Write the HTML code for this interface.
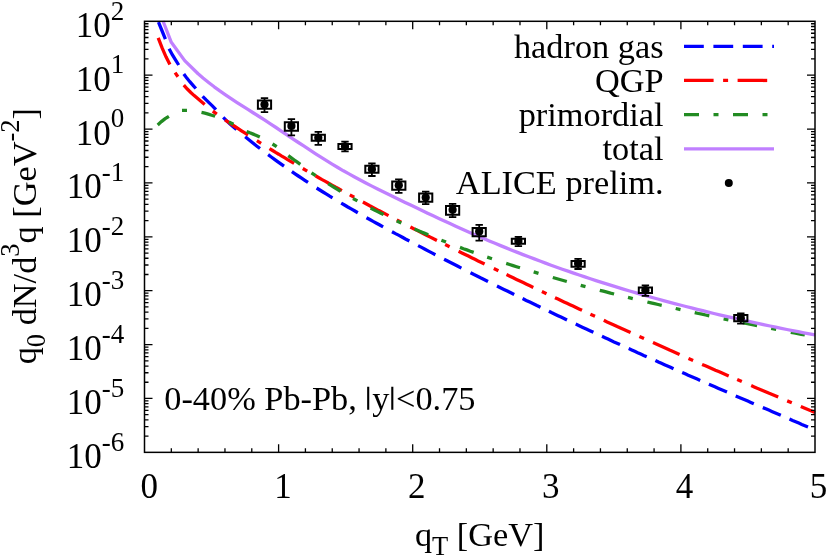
<!DOCTYPE html>
<html><head><meta charset="utf-8"><title>plot</title>
<style>
html,body{margin:0;padding:0;background:#fff;}
svg{display:block;will-change:transform;}
text{font-family:"Liberation Serif",serif;fill:#000;}
.s{font-family:"Liberation Sans",sans-serif;}
</style></head><body>
<svg width="830" height="557" viewBox="0 0 830 557">
<rect width="830" height="557" fill="#fff"/>
<path d="M158.5 22.2L161.9 30.5L165.4 39.1M169.1 48.7L172.3 54.7L175.5 59.8L178.7 65.0M183.8 74.0L186.8 78.1L189.8 81.7L192.8 85.1L195.8 88.5M202.6 96.3L205.9 99.7L209.2 102.9L212.6 106.1L215.9 109.6M223.2 117.4L226.5 120.6L229.8 123.7L233.2 126.7L236.5 129.6M245.2 136.8L248.9 139.8L252.6 142.8L256.3 145.7L260.0 148.5M268.1 154.7L271.3 157.0L274.5 159.3L277.6 161.6L280.8 163.9L284.0 166.2M291.9 171.7L295.1 173.9L298.3 176.0L301.6 178.2L304.8 180.3L308.0 182.4M316.6 188.0L319.8 190.0L323.0 192.0L326.1 193.9L329.3 195.9L332.5 197.8M341.2 203.1L344.5 205.0L347.8 207.0L351.2 208.9L354.5 210.8L357.8 212.7M366.5 217.7L369.8 219.5L373.1 221.4L376.5 223.2L379.8 225.0L383.1 226.9M392.0 231.7L395.5 233.6L399.0 235.4L402.4 237.3L405.9 239.2L409.4 241.0M418.1 245.6L421.6 247.4L425.0 249.2L428.5 251.1L431.9 252.9L435.4 254.7M444.1 259.2L447.6 261.0L451.0 262.7L454.5 264.5L457.9 266.3L461.4 268.1M470.5 272.7L474.0 274.5L477.5 276.2L481.0 278.0L484.5 279.7L488.0 281.5M497.0 286.0L500.4 287.7L503.9 289.4L507.3 291.1L510.8 292.8L514.2 294.5M522.6 298.6L526.2 300.4L529.8 302.1L533.3 303.8L536.9 305.6L540.5 307.3M548.9 311.3L551.9 312.8L554.9 314.2L558.0 315.7L561.0 317.1L564.0 318.5L567.0 320.0M575.7 324.1L579.2 325.7L582.8 327.4L586.3 329.0L589.9 330.7L593.4 332.3M602.0 336.3L605.0 337.7L608.0 339.1L611.0 340.5L614.0 341.9L617.0 343.2L620.0 344.6M628.7 348.6L631.7 349.9L634.7 351.3L637.7 352.7L640.7 354.0L643.7 355.4L646.7 356.7M655.4 360.6L658.4 362.0L661.4 363.3L664.5 364.7L667.5 366.0L670.5 367.3L673.5 368.7M682.2 372.5L685.2 373.8L688.2 375.2L691.2 376.5L694.2 377.8L697.2 379.1L700.2 380.4M708.9 384.2L711.9 385.5L714.9 386.8L718.0 388.2L721.0 389.5L724.0 390.8L727.0 392.1M735.7 395.9L738.7 397.2L741.7 398.5L744.8 399.8L747.8 401.1L750.8 402.4L753.8 403.7M762.8 407.6L765.8 408.8L768.8 410.1L771.8 411.4L774.8 412.7L777.8 414.0L780.8 415.3M789.5 419.0L792.6 420.4L795.7 421.7L798.8 423.0L801.8 424.4L804.9 425.7L808.0 427.0" stroke="#0000ff" stroke-width="3.3" fill="none"/>
<path d="M158.2 37.9L162.1 47.9L166.0 56.8L169.9 64.4M183.8 85.2L187.3 89.0L190.8 92.5L194.2 95.6L197.7 98.6L201.2 101.5L204.7 104.4M225.0 120.0L228.3 122.2L231.6 124.4L234.9 126.5L238.2 128.6L241.5 130.8L244.8 132.9L248.1 135.0M269.5 148.6L272.6 150.5L275.6 152.4L278.7 154.2L281.8 156.1L284.9 157.9L288.0 159.8L291.0 161.6L294.1 163.4M315.5 175.8L318.8 177.7L322.1 179.6L325.4 181.4L328.7 183.3L332.0 185.1L335.3 187.0L338.6 188.8L341.9 190.6M362.9 202.0L366.1 203.7L369.3 205.5L372.5 207.2L375.7 208.9L378.9 210.6L382.1 212.2L385.3 213.9L388.5 215.6M410.4 227.0L413.7 228.7L417.0 230.4L420.3 232.1L423.6 233.7L427.0 235.4L430.3 237.1L433.6 238.8L436.9 240.4M458.6 251.3L461.9 252.9L465.1 254.5L468.4 256.1L471.6 257.7L474.9 259.3L478.1 260.9L481.4 262.4L484.6 264.0M506.5 274.6L509.9 276.2L513.2 277.8L516.5 279.4L519.9 281.0L523.2 282.6L526.6 284.2L529.9 285.8L533.3 287.4M555.0 297.7L558.0 299.1L561.0 300.5L564.0 301.9L567.0 303.3L570.0 304.7L573.0 306.1L576.0 307.5L579.0 308.9L582.0 310.3M603.8 320.3L607.1 321.9L610.5 323.4L613.9 324.9L617.2 326.5L620.5 328.0L623.9 329.5L627.2 331.0L630.6 332.5M653.0 342.6L656.3 344.1L659.6 345.6L663.0 347.1L666.3 348.6L669.6 350.1L673.0 351.5L676.3 353.0L679.6 354.5M702.1 364.4L705.4 365.8L708.8 367.3L712.1 368.7L715.4 370.2L718.7 371.6L722.1 373.1L725.4 374.5L728.7 375.9M751.2 385.6L754.2 386.9L757.2 388.2L760.2 389.4L763.2 390.7L766.2 392.0L769.2 393.3L772.2 394.5L775.2 395.8L778.2 397.1M800.8 406.5L804.3 408.0L807.9 409.5L811.5 411.0L815.0 412.5M175.1 72.6L177.9 76.7M212.8 111.1L216.8 114.1M256.9 140.7L261.1 143.3M302.8 168.5L307.2 171.1M349.8 194.9L354.2 197.3M396.8 219.9L401.2 222.2M445.2 244.6L449.6 246.8M493.8 268.5L498.4 270.7M541.9 291.5L546.5 293.7M590.4 314.2L595.0 316.3M639.4 336.5L644.0 338.6M688.5 358.4L693.1 360.4M737.2 379.6L741.8 381.6M787.2 400.9L791.8 402.8" stroke="#ff0000" stroke-width="3.3" fill="none"/>
<path d="M157.7 124.9L161.4 121.6L165.2 118.6L168.9 116.3M201.5 112.4L204.9 113.1L208.3 114.1L211.7 115.2L215.1 116.3M246.6 131.4L249.9 132.8L253.2 134.1L256.5 135.4L259.8 136.9M288.3 155.7L291.3 157.9L294.3 160.0L297.3 162.2L300.3 164.4M328.2 183.7L331.3 185.6L334.4 187.5L337.4 189.4L340.5 191.3M370.6 208.0L373.9 209.7L377.1 211.4L380.4 213.0L383.6 214.6M414.5 229.0L417.9 230.5L421.4 232.0L424.8 233.4L428.2 234.8M460.0 247.4L463.4 248.7L466.9 249.9L470.3 251.2L473.7 252.4M506.2 263.4L509.6 264.5L513.1 265.6L516.5 266.7L520.0 267.8M552.8 277.5L556.3 278.5L559.8 279.5L563.3 280.5L566.8 281.5M599.8 290.3L603.4 291.2L607.0 292.1L610.5 293.1L614.1 294.0M647.4 302.0L651.0 302.9L654.5 303.7L658.1 304.5L661.7 305.3M694.7 312.7L698.4 313.5L702.0 314.2L705.6 315.0L709.3 315.8M742.7 322.7L746.3 323.5L749.9 324.2L753.5 324.9L757.1 325.6M790.8 332.3L794.3 333.0L797.8 333.7L801.3 334.3L804.8 335.0M182.0 110.4L187.0 110.3M228.9 122.1L233.5 124.3M272.5 144.0L276.7 146.7M311.5 172.8L315.7 175.6M353.0 198.5L357.4 200.9M396.7 220.9L401.3 223.0M441.4 240.2L446.0 242.0M487.2 257.1L492.0 258.7M533.7 271.9L538.5 273.4M580.7 285.3L585.5 286.6M628.0 297.4L632.8 298.6M675.7 308.5L680.5 309.6M723.6 318.8L728.4 319.8M771.2 328.4L776.2 329.4" stroke="#228b22" stroke-width="3.3" fill="none"/>
<path d="M163.0 21.0L171.3 42.3L184.7 60.6L198.1 73.8L203.0 78.0L208.6 82.5L214.2 86.8L219.8 90.9L225.5 94.8L231.1 98.6L236.7 102.3L242.3 105.9L247.9 109.4L253.5 113.0L259.1 116.5L264.8 120.2L270.4 123.8L276.0 127.5L281.6 131.3L287.2 135.0L292.8 138.8L298.4 142.5L304.1 146.2L309.7 149.9L315.3 153.6L320.9 157.2L326.5 160.7L332.1 164.1L337.8 167.5L343.4 170.8L349.0 173.9L354.6 177.0L360.2 180.0L365.8 183.0L371.4 185.9L377.1 188.7L382.7 191.5L388.3 194.3L393.9 197.0L399.5 199.7L405.1 202.4L410.7 205.1L416.4 207.8L422.0 210.5L427.6 213.2L433.2 215.8L438.8 218.4L444.4 221.0L450.0 223.6L455.7 226.2L461.3 228.7L466.9 231.2L472.5 233.7L478.1 236.1L483.7 238.6L489.3 241.0L495.0 243.3L500.6 245.6L506.2 247.9L511.8 250.2L517.4 252.4L523.0 254.6L528.7 256.8L534.3 258.9L539.9 261.0L545.5 263.1L551.1 265.2L556.7 267.2L562.3 269.2L568.0 271.1L573.6 273.1L579.2 275.0L584.8 276.9L590.4 278.7L596.0 280.6L601.6 282.4L607.3 284.1L612.9 285.9L618.5 287.6L624.1 289.3L629.7 291.0L635.3 292.6L640.9 294.3L646.6 295.9L652.2 297.5L657.8 299.0L663.4 300.6L669.0 302.1L674.6 303.6L680.2 305.0L685.9 306.5L691.5 307.9L697.1 309.3L702.7 310.7L708.3 312.1L713.9 313.5L719.6 314.8L725.2 316.1L730.8 317.4L736.4 318.7L742.0 320.0L747.6 321.2L753.2 322.4L758.9 323.6L764.5 324.8L770.1 326.0L775.7 327.2L781.3 328.3L786.9 329.5L792.5 330.6L798.2 331.7L803.8 332.8L809.4 333.9L815.0 334.9" stroke="#c080ff" stroke-width="3.3" stroke-linejoin="round" fill="none"/>
<path d="M171.32 452.35v-4M171.32 21.3v4M198.14 452.35v-4M198.14 21.3v4M224.96 452.35v-4M224.96 21.3v4M251.78 452.35v-4M251.78 21.3v4M278.60 452.35v-8M278.60 21.3v8M305.42 452.35v-4M305.42 21.3v4M332.24 452.35v-4M332.24 21.3v4M359.06 452.35v-4M359.06 21.3v4M385.88 452.35v-4M385.88 21.3v4M412.70 452.35v-8M412.70 21.3v8M439.52 452.35v-4M439.52 21.3v4M466.34 452.35v-4M466.34 21.3v4M493.16 452.35v-4M493.16 21.3v4M519.98 452.35v-4M519.98 21.3v4M546.80 452.35v-8M546.80 21.3v8M573.62 452.35v-4M573.62 21.3v4M600.44 452.35v-4M600.44 21.3v4M627.26 452.35v-4M627.26 21.3v4M654.08 452.35v-4M654.08 21.3v4M680.90 452.35v-8M680.90 21.3v8M707.72 452.35v-4M707.72 21.3v4M734.54 452.35v-4M734.54 21.3v4M761.36 452.35v-4M761.36 21.3v4M788.18 452.35v-4M788.18 21.3v4M144.5 436.13h4M815.0 436.13h-4M144.5 426.64h4M815.0 426.64h-4M144.5 419.91h4M815.0 419.91h-4M144.5 414.69h4M815.0 414.69h-4M144.5 410.42h4M815.0 410.42h-4M144.5 406.82h4M815.0 406.82h-4M144.5 403.69h4M815.0 403.69h-4M144.5 400.93h4M815.0 400.93h-4M144.5 398.47h8M815.0 398.47h-8M144.5 382.25h4M815.0 382.25h-4M144.5 372.76h4M815.0 372.76h-4M144.5 366.03h4M815.0 366.03h-4M144.5 360.81h4M815.0 360.81h-4M144.5 356.54h4M815.0 356.54h-4M144.5 352.93h4M815.0 352.93h-4M144.5 349.81h4M815.0 349.81h-4M144.5 347.05h4M815.0 347.05h-4M144.5 344.59h8M815.0 344.59h-8M144.5 328.37h4M815.0 328.37h-4M144.5 318.88h4M815.0 318.88h-4M144.5 312.15h4M815.0 312.15h-4M144.5 306.93h4M815.0 306.93h-4M144.5 302.66h4M815.0 302.66h-4M144.5 299.05h4M815.0 299.05h-4M144.5 295.93h4M815.0 295.93h-4M144.5 293.17h4M815.0 293.17h-4M144.5 290.71h8M815.0 290.71h-8M144.5 274.49h4M815.0 274.49h-4M144.5 265.00h4M815.0 265.00h-4M144.5 258.27h4M815.0 258.27h-4M144.5 253.04h4M815.0 253.04h-4M144.5 248.78h4M815.0 248.78h-4M144.5 245.17h4M815.0 245.17h-4M144.5 242.05h4M815.0 242.05h-4M144.5 239.29h4M815.0 239.29h-4M144.5 236.83h8M815.0 236.83h-8M144.5 220.61h4M815.0 220.61h-4M144.5 211.12h4M815.0 211.12h-4M144.5 204.39h4M815.0 204.39h-4M144.5 199.16h4M815.0 199.16h-4M144.5 194.90h4M815.0 194.90h-4M144.5 191.29h4M815.0 191.29h-4M144.5 188.17h4M815.0 188.17h-4M144.5 185.41h4M815.0 185.41h-4M144.5 182.94h8M815.0 182.94h-8M144.5 166.72h4M815.0 166.72h-4M144.5 157.24h4M815.0 157.24h-4M144.5 150.50h4M815.0 150.50h-4M144.5 145.28h4M815.0 145.28h-4M144.5 141.02h4M815.0 141.02h-4M144.5 137.41h4M815.0 137.41h-4M144.5 134.28h4M815.0 134.28h-4M144.5 131.53h4M815.0 131.53h-4M144.5 129.06h8M815.0 129.06h-8M144.5 112.84h4M815.0 112.84h-4M144.5 103.35h4M815.0 103.35h-4M144.5 96.62h4M815.0 96.62h-4M144.5 91.40h4M815.0 91.40h-4M144.5 87.13h4M815.0 87.13h-4M144.5 83.53h4M815.0 83.53h-4M144.5 80.40h4M815.0 80.40h-4M144.5 77.65h4M815.0 77.65h-4M144.5 75.18h8M815.0 75.18h-8M144.5 58.96h4M815.0 58.96h-4M144.5 49.47h4M815.0 49.47h-4M144.5 42.74h4M815.0 42.74h-4M144.5 37.52h4M815.0 37.52h-4M144.5 33.25h4M815.0 33.25h-4M144.5 29.65h4M815.0 29.65h-4M144.5 26.52h4M815.0 26.52h-4M144.5 23.77h4M815.0 23.77h-4" stroke="#000" stroke-width="1.3" fill="none"/>
<rect x="144.5" y="21.3" width="670.5" height="431.05" fill="none" stroke="#000" stroke-width="1.5"/>
<text x="124.2" y="467.85" font-size="35" text-anchor="end">10<tspan font-size="27" dy="-17.3">-6</tspan></text>
<text x="124.2" y="413.97" font-size="35" text-anchor="end">10<tspan font-size="27" dy="-17.3">-5</tspan></text>
<text x="124.2" y="360.09" font-size="35" text-anchor="end">10<tspan font-size="27" dy="-17.3">-4</tspan></text>
<text x="124.2" y="306.21" font-size="35" text-anchor="end">10<tspan font-size="27" dy="-17.3">-3</tspan></text>
<text x="124.2" y="252.33" font-size="35" text-anchor="end">10<tspan font-size="27" dy="-17.3">-2</tspan></text>
<text x="124.2" y="198.44" font-size="35" text-anchor="end">10<tspan font-size="27" dy="-17.3">-1</tspan></text>
<text x="124.2" y="144.56" font-size="35" text-anchor="end">10<tspan font-size="27" dy="-17.3">0</tspan></text>
<text x="124.2" y="90.68" font-size="35" text-anchor="end">10<tspan font-size="27" dy="-17.3">1</tspan></text>
<text x="124.2" y="36.80" font-size="35" text-anchor="end">10<tspan font-size="27" dy="-17.3">2</tspan></text>
<text x="149.15" y="498" font-size="35" text-anchor="middle">0</text>
<text x="283.00" y="498" font-size="35" text-anchor="middle">1</text>
<text x="416.85" y="498" font-size="35" text-anchor="middle">2</text>
<text x="550.70" y="498" font-size="35" text-anchor="middle">3</text>
<text x="684.55" y="498" font-size="35" text-anchor="middle">4</text>
<text x="818.40" y="498" font-size="35" text-anchor="middle">5</text>
<text x="414.9" y="546" font-size="34.3">q<tspan font-size="26.5" dy="8.7">T</tspan><tspan dy="-8.7"> [GeV]</tspan></text>
<text transform="translate(36.3 364.3) rotate(-90)" font-size="34.3">q<tspan font-size="26.5" dy="8.9">0</tspan><tspan dy="-8.9"> dN/d</tspan><tspan font-size="26.5" dy="-17">3</tspan><tspan dy="17">q [GeV</tspan><tspan font-size="26.5" dy="-17">-2</tspan><tspan dy="17">]</tspan></text>
<text x="164.3" y="410.2" font-size="34.3">0-40% Pb-Pb,</text>
<text x="372.3" y="410.2" font-size="34.3">y</text>
<text x="396.1" y="410.2" font-size="34.3">&lt;0.75</text>
<path d="M368.2 386.7V409.8M392.3 386.7V409.8" stroke="#000" stroke-width="2.1" fill="none"/>
<text x="663.5" y="57.65" font-size="34.3" text-anchor="end">hadron gas</text>
<text x="663.5" y="91.75" font-size="34.3" text-anchor="end">QGP</text>
<text x="663.5" y="126.00" font-size="34.3" text-anchor="end">primordial</text>
<text x="663.5" y="160.15" font-size="34.3" text-anchor="end">total</text>
<text x="663.5" y="194.20" font-size="34.3" text-anchor="end">ALICE prelim.</text>
<path d="M684.0 46.35H774.0" stroke="#0000ff" stroke-width="3.3" stroke-dasharray="19.8 9.6" fill="none"/>
<path d="M684.0 80.45H774.0" stroke="#ff0000" stroke-width="3.3" stroke-dasharray="29.6 9.5 5 9.5" fill="none"/>
<path d="M684.0 114.7H774.0" stroke="#228b22" stroke-width="3.3" stroke-dasharray="15 14.5 5 14.5" fill="none"/>
<path d="M684.0 148.85H774.0" stroke="#c080ff" stroke-width="3.3" fill="none"/>
<circle cx="728.8" cy="182.9" r="4" fill="#000"/>
<path d="M264.5 98.2V112.1M260.8 98.2h7.4M260.8 112.1h7.4M291.4 119.2V135.4M287.7 119.2h7.4M287.7 135.4h7.4M318.3 131.8V144.8M314.6 131.8h7.4M314.6 144.8h7.4M345.0 141.6V151.3M341.3 141.6h7.4M341.3 151.3h7.4M371.9 163.5V176.0M368.2 163.5h7.4M368.2 176.0h7.4M398.8 179.3V192.8M395.1 179.3h7.4M395.1 192.8h7.4M425.7 191.7V204.2M422.0 191.7h7.4M422.0 204.2h7.4M452.6 203.9V217.1M448.9 203.9h7.4M448.9 217.1h7.4M479.2 224.9V240.6M475.5 224.9h7.4M475.5 240.6h7.4M518.4 236.8V246.1M514.7 236.8h7.4M514.7 246.1h7.4M578.1 258.8V269.0M574.4 258.8h7.4M574.4 269.0h7.4M645.4 285.4V295.9M641.7 285.4h7.4M641.7 295.9h7.4M740.8 313.3V323.6M737.1 313.3h7.4M737.1 323.6h7.4" stroke="#000" stroke-width="1.8" fill="none"/>
<path d="M257.9 100.6H271.1V108.7H257.9ZM284.8 122.3H298.0V130.8H284.8ZM311.7 134.8H324.9V140.8H311.7ZM338.4 144.0H351.6V148.9H338.4ZM365.3 165.7H378.5V172.8H365.3ZM392.2 181.6H405.4V189.7H392.2ZM419.1 193.6H432.3V201.8H419.1ZM446.0 205.9H459.2V214.8H446.0ZM472.6 227.9H485.8V236.2H472.6ZM511.8 238.8H525.0V243.7H511.8ZM571.5 260.9H584.7V266.7H571.5ZM638.8 287.5H652.0V293.1H638.8ZM734.2 315.1H747.4V321.3H734.2Z" stroke="#000" stroke-width="2.0" fill="none"/>
<g fill="#000"><circle cx="264.5" cy="104.5" r="4.1"/><circle cx="291.4" cy="125.9" r="4.1"/><circle cx="318.3" cy="137.8" r="4.1"/><circle cx="345.0" cy="146.4" r="4.1"/><circle cx="371.9" cy="169.2" r="4.1"/><circle cx="398.8" cy="185.3" r="4.1"/><circle cx="425.7" cy="197.6" r="4.1"/><circle cx="452.6" cy="209.8" r="4.1"/><circle cx="479.2" cy="231.4" r="4.1"/><circle cx="518.4" cy="241.1" r="4.1"/><circle cx="578.1" cy="263.6" r="4.1"/><circle cx="645.4" cy="290.2" r="4.1"/><circle cx="740.8" cy="318.2" r="4.1"/></g>
</svg>
</body></html>
